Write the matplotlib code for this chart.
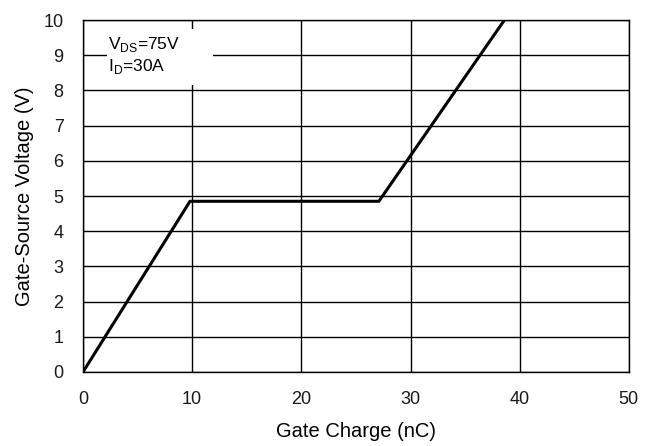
import matplotlib
matplotlib.use("Agg")
import matplotlib.pyplot as plt
from matplotlib.patches import Rectangle

# gate charge curve (nC, V)
charge = [0.0, 9.8, 27.1, 38.6]
voltage = [0.0, 4.85, 4.85, 10.0]
x_ticks = [0, 10, 20, 30, 40, 50]
y_ticks = [0, 1, 2, 3, 4, 5, 6, 7, 8, 9, 10]
vds_text = "V$_{\\mathrm{DS}}$=75V"
id_text = "I$_{\\mathrm{D}}$=30A"

plt.rcParams["font.family"] = ["Liberation Sans", "DejaVu Sans"]
plt.rcParams["mathtext.fontset"] = "custom"
plt.rcParams["mathtext.rm"] = "Liberation Sans"

fig = plt.figure(figsize=(6.51, 4.46), dpi=100)
ax = fig.add_axes([0.1275, 0.166, 0.8385, 0.789])

ax.set_xlim(0, 50)
ax.set_ylim(0, 10)
ax.set_xticks(x_ticks)
ax.set_yticks(y_ticks)
ax.tick_params(length=0, labelsize=13, colors="#1a1a1a", pad=14)
ax.grid(True, color="black", linewidth=1.0)
for s in ax.spines.values():
    s.set_color("black")
    s.set_linewidth(1.0)

ax.plot(charge, voltage, color="black", linewidth=2.2, zorder=4)

# white label box covering the grid
ax.add_patch(Rectangle((2.2, 8.15), 9.7, 1.6, facecolor="white",
                       edgecolor="none", zorder=3))
ax.text(2.3, 9.3, vds_text, fontsize=12.5, va="center", ha="left", zorder=5)
ax.text(2.3, 8.68, id_text, fontsize=12.5, va="center", ha="left", zorder=5)

ax.set_xlabel("Gate Charge (nC)", fontsize=14.5, labelpad=10)
ax.set_ylabel("Gate-Source Voltage (V)", fontsize=14.5, labelpad=7)

fig.savefig("out.png", dpi=100)
